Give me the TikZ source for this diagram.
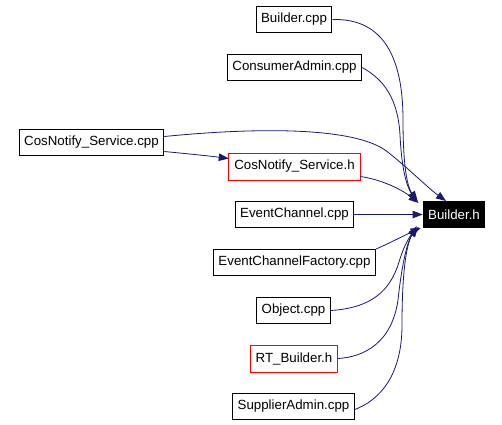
\documentclass[tikz,border=0pt]{standalone}
\usepackage{fontspec}
\setmainfont{Liberation Sans}
\usepackage{xcolor}
\usetikzlibrary{arrows.meta}
\definecolor{edgeblue}{HTML}{191970}

\begin{document}
\begin{tikzpicture}[x=1bp,y=-1bp]
			\tikzstyle{file}=[draw, line width=1bp, inner xsep=5bp, inner ysep=0pt, minimum height=26bp, font=\fontsize{13.3bp}{15bp}\selectfont]
			\tikzstyle{hfile}=[file, draw=none]
			\tikzstyle{target}=[file, fill=black, text=white]
			\tikzstyle{redline}=[draw=red, line width=1bp, line join=miter]
			\tikzset{edge/.style = {-{Triangle[length=10bp,width=7.5bp]}, draw=edgeblue, line width=0.8bp}}
			\useasboundingbox (0,0) rectangle (502,424);

			% included header
			\node[target](builderh) at (454,214.5) {Builder.h};

			% files that include it
			\node[file](buildercpp)   at (294,19.5)   {Builder.cpp};
			\node[file](consumer)     at (294.5,67.5) {ConsumerAdmin.cpp};
			\node[file](servicecpp)   at (91.5,142.5) {CosNotify\_Service.cpp};
			\node[hfile](serviceh)    at (294.5,166.5) {CosNotify\_Service.h};
			\node[file](channel)      at (294.5,214.5) {EventChannel.cpp};
			\node[file](factory)      at (294.5,262.5) {EventChannelFactory.cpp};
			\node[file](object)       at (293.5,310.5) {Object.cpp};
			\node[hfile](rtbuilder)   at (294,358.5)   {RT\_Builder.h};
			\node[file](supplier)     at (293.5,406.5) {SupplierAdmin.cpp};

			% red outlines of the headers
			\draw[redline](serviceh.north west) -- (serviceh.north east) -- (serviceh.south east) -- (serviceh.south west) -- ([yshift=0.5bp]serviceh.north west);
			\draw[redline](rtbuilder.north west) -- (rtbuilder.north east) -- (rtbuilder.south east) -- (rtbuilder.south west) -- ([yshift=0.5bp]rtbuilder.north west);

			% edges
			\draw[edge](buildercpp.east) .. controls (385,18) and (403,60) .. (403,120) .. controls (403,170) and (408,188) .. ([xshift=-5bp]builderh.north west);
			\draw[edge](consumer.east) .. controls (385,80) and (398,100) .. (400,135) .. controls (402,175) and (408,188) .. ([xshift=-6bp,yshift=-1bp]builderh.north west);
			\draw[edge]([yshift=6bp]servicecpp.east) .. controls (250,128) and (350,126) .. (385,150) .. controls (405,165) and (428,188) .. ([xshift=-8bp]builderh.north);
			\draw[edge]([yshift=-9bp]servicecpp.east) .. controls (190,154) and (210,156) .. ([yshift=8bp]serviceh.west);
			\draw[edge]([yshift=-10bp]serviceh.east) .. controls (385,180) and (405,192) .. ([xshift=-4bp,yshift=-2bp]builderh.north west);
			\draw[edge](channel.east) -- (builderh.west);
			\draw[edge](factory.north east) .. controls (390,243) and (405,235) .. ([xshift=-2bp]builderh.south west);
			\draw[edge](object.east) .. controls (370,308) and (390,292) .. (399,262) .. controls (404,245) and (410,236) .. ([xshift=-4bp,yshift=1bp]builderh.south west);
			\draw[edge](rtbuilder.east) .. controls (365,357) and (392,342) .. (398,300) .. controls (402,262) and (408,240) .. ([xshift=-5bp,yshift=1bp]builderh.south west);
			\draw[edge]([yshift=-3bp]supplier.east) .. controls (380,400) and (402,375) .. (402,325) .. controls (402,262) and (408,242) .. ([xshift=-6bp,yshift=2bp]builderh.south west);
\end{tikzpicture}
\end{document}
